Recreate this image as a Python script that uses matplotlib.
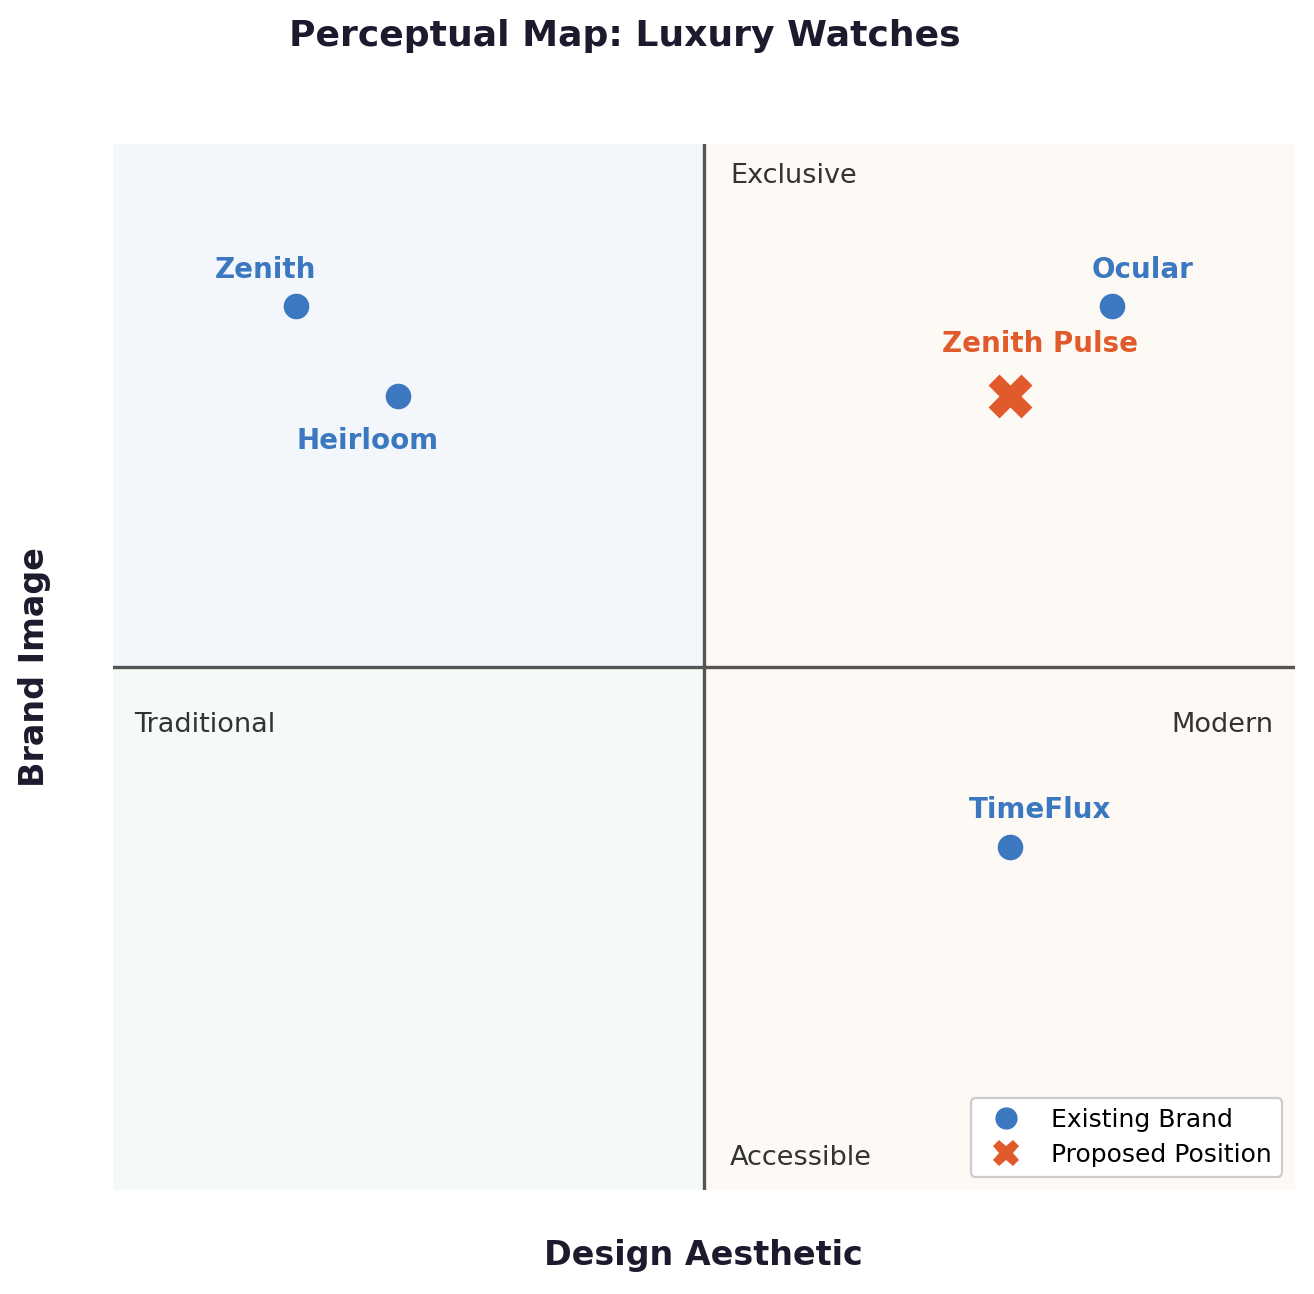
import numpy as np
import matplotlib
matplotlib.use("Agg")
import matplotlib.pyplot as plt
from matplotlib.lines import Line2D

# data
brands = ["Zenith", "Heirloom", "Ocular", "TimeFlux"]
design = [-4, -3, 4, 3]
image = [4, 3, 4, -2]
label_off = [(-22, 26), (-22, -32), (22, 26), (22, 27)]
proposed = "Zenith Pulse"
prop_x, prop_y = 3, 3

BLUE = "#3b78c0"; ORANGE = "#e05a2b"; DARK = "#1c1b2e"
LIM = 5.8

fig = plt.figure(figsize=(13.14, 12.94), dpi=100)
ax = fig.add_axes([0.086, 0.0804, 0.8995, 0.8083])
ax.set_xlim(-LIM, LIM); ax.set_ylim(-LIM, LIM)

# quadrant backgrounds
ax.fill_between([-LIM, 0], 0, LIM, color="#f3f7fc", lw=0, zorder=0)
ax.fill_between([-LIM, 0], -LIM, 0, color="#f5faf6", lw=0, zorder=0)
ax.fill_between([0, LIM], -LIM, LIM, color="#fdf9f4", lw=0, zorder=0)
ax.axhline(0, color="#555555", lw=2.4, zorder=1)
ax.axvline(0, color="#555555", lw=2.4, zorder=1)

ax.scatter(design, image, s=340, color=BLUE, zorder=3, linewidths=0)
for b, x, y, off in zip(brands, design, image, label_off):
    ax.annotate(b, (x, y), xytext=off, textcoords="offset points", ha="center",
                va="center", fontsize=20, fontweight="bold", color=BLUE)
ax.scatter([prop_x], [prop_y], s=1000, marker="X", color=ORANGE, zorder=4, linewidths=0)
ax.annotate(proposed, (prop_x, prop_y), xytext=(22, 38), textcoords="offset points",
            ha="center", va="center", fontsize=20, fontweight="bold", color=ORANGE)

# quadrant labels
qkw = dict(transform=ax.transAxes, va="center", fontsize=19.5, color="#333333")
ax.text(0.522, 0.969, "Exclusive", ha="left", **qkw)
ax.text(0.522, 0.031, "Accessible", ha="left", **qkw)
ax.text(0.018, 0.445, "Traditional", ha="left", **qkw)
ax.text(0.982, 0.445, "Modern", ha="right", **qkw)

ax.set_xticks([]); ax.set_yticks([])
for s in ax.spines.values():
    s.set_visible(False)

handles = [Line2D([], [], marker="o", ls="", color=BLUE, ms=15, label="Existing Brand"),
           Line2D([], [], marker="X", ls="", color=ORANGE, ms=19, mew=0, label="Proposed Position")]
leg = ax.legend(handles=handles, loc="lower right", fontsize=18, frameon=True, edgecolor="#cccccc",
                framealpha=1, borderpad=0.4, handletextpad=0.8, labelspacing=0.45,
                borderaxespad=0, bbox_to_anchor=(0.989, 0.0124))
leg.get_frame().set_linewidth(1.6)

fig.text(625 / 1314, 1 - 36 / 1294, "Perceptual Map: Luxury Watches", ha="center", va="center",
         fontsize=26, fontweight="bold", color=DARK)
fig.text(703 / 1314, 1 - 1255 / 1294, "Design Aesthetic", ha="center", va="center",
         fontsize=24, fontweight="bold", color=DARK)
fig.text(35 / 1314, 1 - 667 / 1294, "Brand Image", ha="center", va="center", rotation=90,
         fontsize=24, fontweight="bold", color=DARK)

fig.savefig("out.png", dpi=100)
